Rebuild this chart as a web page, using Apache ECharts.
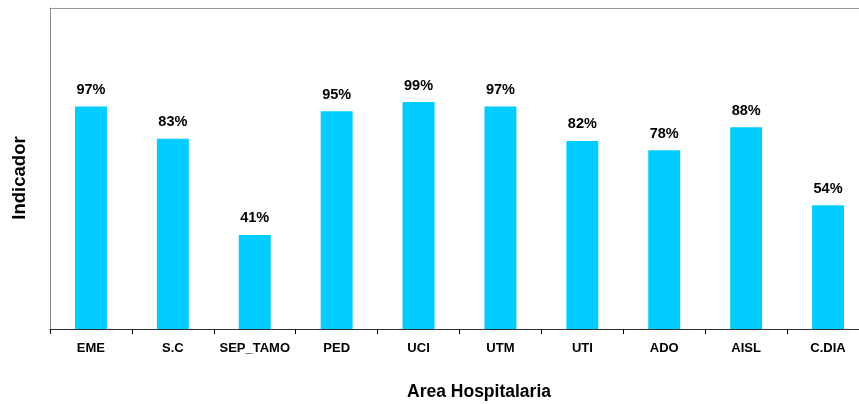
<!DOCTYPE html>
<html><head><meta charset="utf-8">
<script src="https://cdn.jsdelivr.net/npm/echarts@6/dist/echarts.min.js"></script>
<style>html,body{margin:0;padding:0;background:#fff;overflow:hidden}#c{width:869px;height:404px}</style>
</head><body><div id="c"></div>
<script>
const categories = ['EME','S.C','SEP_TAMO','PED','UCI','UTM','UTI','ADO','AISL','C.DIA'];
const values = [97, 83, 41, 95, 99, 97, 82, 78, 88, 54];
const xTitle = 'Area Hospitalaria';
const yTitle = 'Indicador';

const chart = echarts.init(document.getElementById('c'));
chart.setOption({
  animation: false,
  grid: {left: 50, right: 0, top: 8, bottom: 75, show: false},
  title: {text: xTitle, left: 474, top: 378, textAlign: 'center',
    textStyle: {fontFamily: 'Liberation Sans, Arial', fontWeight: 'bold', fontSize: 17.5, color: '#000'}},
  graphic: [{type: 'text', x: 19.5, y: 178, rotation: Math.PI/2,
    style: {text: yTitle, fontFamily: 'Liberation Sans, Arial', fontWeight: 'bold', fontSize: 18.5, fill: '#000', align: 'center', verticalAlign: 'middle'}}],
  xAxis: [{type: 'category', data: categories,
    axisLine: {lineStyle: {color: '#333', width: 1}},
    axisTick: {show: true, length: 5, lineStyle: {color: '#000', width: 1}},
    axisLabel: {interval: 0, margin: 13, fontFamily: 'Liberation Sans, Arial', fontWeight: 'bold', fontSize: 13, color: '#000'}},
    {type: 'category', data: categories, position: 'top',
    axisLine: {show: true, lineStyle: {color: '#999', width: 1}},
    axisTick: {show: false}, axisLabel: {show: false}}],
  yAxis: {type: 'value', min: 0, max: 140, interval: 20,
    axisLine: {show: true, lineStyle: {color: '#888'}},
    axisTick: {show: false}, axisLabel: {show: false}, splitLine: {show: false}},
  series: [{type: 'bar', data: values, barWidth: '39%',
    itemStyle: {color: '#00CCFF'},
    label: {show: true, position: 'top', distance: 9, formatter: '{c}%',
      fontFamily: 'Liberation Sans, Arial', fontWeight: 'bold', fontSize: 14.5, color: '#000'}}]
});
</script></body></html>
